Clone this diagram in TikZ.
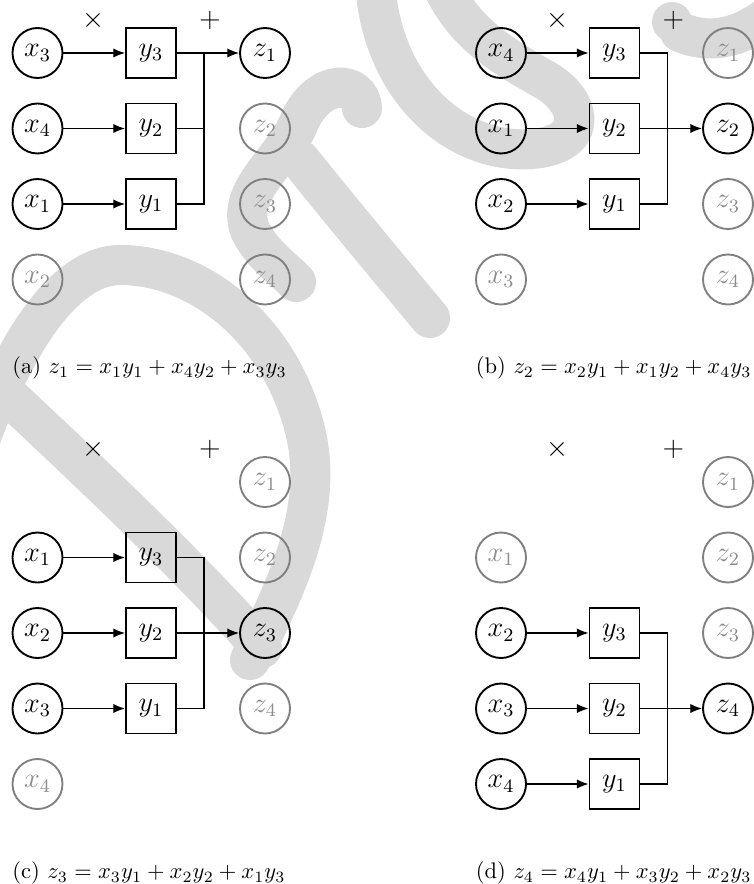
\documentclass[tikz,border=0pt]{standalone}
\usetikzlibrary{arrows.meta}
\begin{document}
\begin{tikzpicture}[x=0.424pt,y=-0.424pt,
  xn/.style={circle,draw,thick,minimum size=21.2pt,inner sep=0pt,font=\large},
  gn/.style={xn,draw=black!50,text=black!45},
  bn/.style={rectangle,draw,thick,minimum size=21.2pt,inner sep=0pt,font=\large},
  conn/.style={semithick},
  arr/.style={semithick,-{Latex[length=5pt,width=4pt]}},
  opl/.style={font=\large},
  capt/.style={anchor=west,inner sep=0pt,scale=0.955},
  wm/.style={line width=17pt,draw=black!15,line cap=round}]
\useasboundingbox (0,0) rectangle (753,884);
% watermark (background)
\draw[wm] (-35,355) .. controls (60,445) and (170,545) .. (262,648);
\draw[wm] (-20,440) .. controls (20,330) and (70,265) .. (120,265) .. controls (200,265) and (280,330) .. (305,430) .. controls (325,510) and (285,590) .. (250,660);
\draw[wm] (362,108) .. controls (360,80) and (320,78) .. (300,120) .. controls (285,160) and (235,190) .. (250,230) .. controls (262,255) and (285,270) .. (296,282);
\draw[wm] (300,160) .. controls (340,210) and (390,270) .. (430,318);
\draw[wm] (375,-20) .. controls (380,90) and (460,160) .. (540,148) .. controls (590,140) and (580,100) .. (545,80) .. controls (500,55) and (460,30) .. (440,-20);
\draw[wm] (680,32) .. controls (710,45) and (740,38) .. (770,15);
\fill[black!15] (672,22) circle (20);
% ---------- panel (a)
\node[xn] (a-x3) at (37.5,53) {$x_3$};
\node[xn] (a-x4) at (37.5,128.5) {$x_4$};
\node[xn] (a-x1) at (37.5,204) {$x_1$};
\node[gn] (a-x2) at (37.5,279.5) {$x_2$};
\node[bn] (a-y3) at (151,53) {$y_3$};
\node[bn] (a-y2) at (151,128.5) {$y_2$};
\node[bn] (a-y1) at (151,204) {$y_1$};
\node[xn] (a-z1) at (265,53) {$z_1$};
\node[gn] (a-z2) at (265,128.5) {$z_2$};
\node[gn] (a-z3) at (265,204) {$z_3$};
\node[gn] (a-z4) at (265,279.5) {$z_4$};
\coordinate (a-j) at (204,53);
\node[opl] (a-t) at (94,20) {$\times$};
\node[opl] (a-p) at (210,20) {$+$};
\draw[arr] (a-x3) -- (a-y3);
\draw[arr] (a-x4) -- (a-y2);
\draw[arr] (a-x1) -- (a-y1);
\draw[arr] (a-y3) -- (a-z1);
\draw[conn] (a-y2.east) -- (a-y2.east -| a-j);
\draw[conn] (a-y1.east) -| (a-j);
\node[capt] (a-c) at (12,368) {(a)\ $z_1 = x_1y_1 + x_4y_2 + x_3y_3$};
% ---------- panel (b)
\node[xn] (b-x4) at (501,53) {$x_4$};
\node[xn] (b-x1) at (501,128.5) {$x_1$};
\node[xn] (b-x2) at (501,204) {$x_2$};
\node[gn] (b-x3) at (501,279.5) {$x_3$};
\node[bn] (b-y3) at (614.5,53) {$y_3$};
\node[bn] (b-y2) at (614.5,128.5) {$y_2$};
\node[bn] (b-y1) at (614.5,204) {$y_1$};
\node[gn] (b-z1) at (728,53) {$z_1$};
\node[xn] (b-z2) at (728,128.5) {$z_2$};
\node[gn] (b-z3) at (728,204) {$z_3$};
\node[gn] (b-z4) at (728,279.5) {$z_4$};
\coordinate (b-j) at (667.5,128.5);
\node[opl] (b-t) at (557.5,20) {$\times$};
\node[opl] (b-p) at (673.5,20) {$+$};
\draw[arr] (b-x4) -- (b-y3);
\draw[arr] (b-x1) -- (b-y2);
\draw[arr] (b-x2) -- (b-y1);
\draw[arr] (b-y2) -- (b-z2);
\draw[conn] (b-y3.east) -| (b-j);
\draw[conn] (b-y1.east) -| (b-j);
\node[capt] (b-c) at (475.5,368) {(b)\ $z_2 = x_2y_1 + x_1y_2 + x_4y_3$};
% ---------- panel (c)
\node[gn] (c-z1) at (265,482) {$z_1$};
\node[gn] (c-z2) at (265,557.5) {$z_2$};
\node[xn] (c-z3) at (265,633) {$z_3$};
\node[gn] (c-z4) at (265,708.5) {$z_4$};
\node[xn] (c-x1) at (37.5,557.5) {$x_1$};
\node[xn] (c-x2) at (37.5,633) {$x_2$};
\node[xn] (c-x3) at (37.5,708.5) {$x_3$};
\node[gn] (c-x4) at (37.5,784) {$x_4$};
\node[bn] (c-y3) at (151,557.5) {$y_3$};
\node[bn] (c-y2) at (151,633) {$y_2$};
\node[bn] (c-y1) at (151,708.5) {$y_1$};
\coordinate (c-j) at (204,633);
\node[opl] (c-t) at (94,449) {$\times$};
\node[opl] (c-p) at (210,449) {$+$};
\draw[arr] (c-x1) -- (c-y3);
\draw[arr] (c-x2) -- (c-y2);
\draw[arr] (c-x3) -- (c-y1);
\draw[arr] (c-y2) -- (c-z3);
\draw[conn] (c-y3.east) -| (c-j);
\draw[conn] (c-y1.east) -| (c-j);
\node[capt] (c-c) at (12,873) {(c)\ $z_3 = x_3y_1 + x_2y_2 + x_1y_3$};
% ---------- panel (d)
\node[gn] (d-z1) at (728,482) {$z_1$};
\node[gn] (d-z2) at (728,557.5) {$z_2$};
\node[gn] (d-z3) at (728,633) {$z_3$};
\node[xn] (d-z4) at (728,708.5) {$z_4$};
\node[gn] (d-x1) at (501,557.5) {$x_1$};
\node[xn] (d-x2) at (501,633) {$x_2$};
\node[xn] (d-x3) at (501,708.5) {$x_3$};
\node[xn] (d-x4) at (501,784) {$x_4$};
\node[bn] (d-y3) at (614.5,633) {$y_3$};
\node[bn] (d-y2) at (614.5,708.5) {$y_2$};
\node[bn] (d-y1) at (614.5,784) {$y_1$};
\coordinate (d-j) at (667.5,708.5);
\node[opl] (d-t) at (557.5,449) {$\times$};
\node[opl] (d-p) at (673.5,449) {$+$};
\draw[arr] (d-x2) -- (d-y3);
\draw[arr] (d-x3) -- (d-y2);
\draw[arr] (d-x4) -- (d-y1);
\draw[arr] (d-y2) -- (d-z4);
\draw[conn] (d-y3.east) -| (d-j);
\draw[conn] (d-y1.east) -| (d-j);
\node[capt] (d-c) at (475.5,873) {(d)\ $z_4 = x_4y_1 + x_3y_2 + x_2y_3$};
\end{tikzpicture}
\end{document}
